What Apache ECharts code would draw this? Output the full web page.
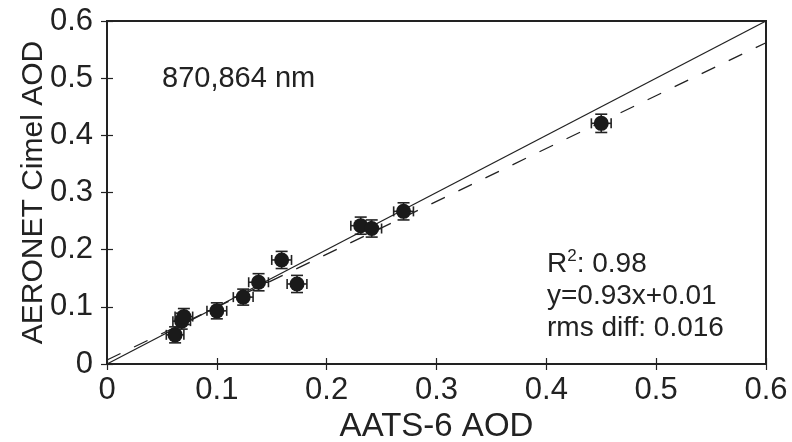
<!DOCTYPE html>
<html>
<head>
<meta charset="utf-8">
<script src="https://cdn.jsdelivr.net/npm/echarts@6/dist/echarts.min.js"></script>
<style>html,body{margin:0;padding:0;background:#fff;}#c{width:792px;height:442px;}</style>
</head>
<body>
<div id="c"></div>
<script>
// Data
const aats = [0.062, 0.068, 0.070, 0.100, 0.124, 0.138, 0.159, 0.173, 0.231, 0.241, 0.270, 0.450];
const cimel = [0.051, 0.075, 0.083, 0.093, 0.117, 0.143, 0.182, 0.140, 0.242, 0.237, 0.267, 0.421];
const xErr = [0.008, 0.008, 0.008, 0.009, 0.009, 0.009, 0.009, 0.009, 0.009, 0.009, 0.009, 0.009];
const yErr = [0.014, 0.014, 0.014, 0.014, 0.014, 0.015, 0.015, 0.015, 0.015, 0.015, 0.015, 0.016];
const oneToOne = [[0, 0], [0.6, 0.6]];
const fitLine = [[0, 0.007], [0.6, 0.562]];
const wavelengthLabel = '870,864 nm';
const statsLines = ['R{sup|2}: 0.98', 'y=0.93x+0.01', 'rms diff: 0.016'];

const FONT = 'Liberation Sans';
const INK = '#222';
const chart = echarts.init(document.getElementById('c'));

const errData = aats.map((x, i) => [x, cimel[i], xErr[i], yErr[i]]);

function fmt(v) { return v === 0 ? '0' : v.toFixed(1); }

const axisCommon = {
  type: 'value', min: 0, max: 0.6, interval: 0.1,
  splitLine: { show: false },
  axisLine: { show: false },
  nameMoveOverlap: false,
  axisTick: { show: true, inside: true, length: 6, lineStyle: { color: INK, width: 1.2 } },
};

chart.setOption({
  animation: false,
  backgroundColor: '#fff',
  grid: { left: 107, top: 21, width: 659, height: 343, show: true, borderColor: INK, borderWidth: 2, backgroundColor: 'transparent', containLabel: false, outerBoundsMode: 'none' },
  xAxis: [
    Object.assign({}, axisCommon, {
      position: 'bottom',
      axisLabel: { color: INK, fontFamily: FONT, fontSize: 31, margin: 11, formatter: fmt },
      name: 'AATS-6 AOD', nameLocation: 'middle', nameGap: 46,
      nameTextStyle: { color: INK, fontFamily: FONT, fontSize: 33 }
    }),
    Object.assign({}, axisCommon, { position: 'top', axisLabel: { show: false } })
  ],
  yAxis: [
    Object.assign({}, axisCommon, {
      position: 'left',
      axisLabel: { color: INK, fontFamily: FONT, fontSize: 31, margin: 14, formatter: fmt },
      name: 'AERONET Cimel AOD', nameLocation: 'middle', nameGap: 58,
      nameTextStyle: { color: INK, fontFamily: FONT, fontSize: 30 }
    }),
    Object.assign({}, axisCommon, { position: 'right', axisLabel: { show: false } })
  ],
  series: [
    {
      type: 'line', data: oneToOne, symbol: 'none', silent: true,
      lineStyle: { color: INK, width: 1.3 }, z: 2
    },
    {
      type: 'line', data: fitLine, symbol: 'none', silent: true,
      lineStyle: { color: INK, width: 1.3, type: [15, 15] }, z: 2
    },
    {
      type: 'custom', data: errData, z: 3,
      renderItem: function (params, api) {
        const x = api.value(0), y = api.value(1), dx = api.value(2), dy = api.value(3);
        const l = api.coord([x - dx, y]), r = api.coord([x + dx, y]);
        const t = api.coord([x, y + dy]), b = api.coord([x, y - dy]);
        const cx = 5, cy = 6;
        const st = { stroke: INK, lineWidth: 1.6 };
        return {
          type: 'group', children: [
            { type: 'line', shape: { x1: l[0], y1: l[1], x2: r[0], y2: r[1] }, style: st },
            { type: 'line', shape: { x1: l[0], y1: l[1] - cx, x2: l[0], y2: l[1] + cx }, style: st },
            { type: 'line', shape: { x1: r[0], y1: r[1] - cx, x2: r[0], y2: r[1] + cx }, style: st },
            { type: 'line', shape: { x1: t[0], y1: t[1], x2: b[0], y2: b[1] }, style: st },
            { type: 'line', shape: { x1: t[0] - cy, y1: t[1], x2: t[0] + cy, y2: t[1] }, style: st },
            { type: 'line', shape: { x1: b[0] - cy, y1: b[1], x2: b[0] + cy, y2: b[1] }, style: st }
          ]
        };
      }
    },
    {
      type: 'scatter', data: aats.map((x, i) => [x, cimel[i]]), symbol: 'circle', symbolSize: 15,
      itemStyle: { color: '#1a1a1a', opacity: 1 }, z: 4
    }
  ],
  graphic: [
    { type: 'text', left: 162, top: 64, style: { text: wavelengthLabel, fill: INK, font: '29px "Liberation Sans"' } },
    { type: 'text', left: 547, top: 248, style: {
      text: statsLines.join('\n'), fill: INK, font: '28px "Liberation Sans"', lineHeight: 32,
      rich: { sup: { fontSize: 17, verticalAlign: 'top', fontFamily: FONT, fill: INK, lineHeight: 32, padding: [0,0,12,0] } }
    } }
  ]
});
</script>
</body>
</html>
